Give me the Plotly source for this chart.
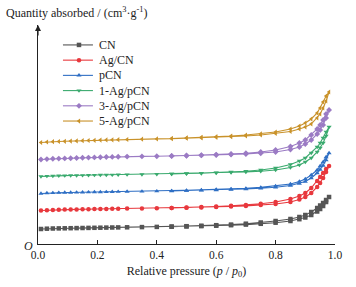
import plotly.graph_objects as go

# relative pressure points (adsorption branch, then desorption branch)
p_ads = [0.01, 0.03, 0.05, 0.07, 0.09, 0.11, 0.13, 0.15, 0.17, 0.19, 0.21, 0.23, 0.25, 0.27,
         0.30, 0.35, 0.40, 0.45, 0.50, 0.55, 0.60, 0.65, 0.70, 0.75, 0.80, 0.85, 0.88, 0.90,
         0.92, 0.94, 0.95, 0.96, 0.97, 0.98]
p_des = [0.97, 0.96, 0.95, 0.94, 0.92, 0.90, 0.88, 0.85, 0.80, 0.75, 0.70, 0.65, 0.60, 0.55,
         0.50, 0.45]

cn_ads = [15, 15.3, 15.5, 15.6, 15.7, 15.8, 15.9, 16, 16.1, 16.2, 16.3, 16.4, 16.5, 16.6,
          16.7, 16.9, 17.1, 17.3, 17.6, 17.9, 18.3, 18.8, 19.4, 20.2, 21.3, 23, 24.8, 26.5,
          29, 32.5, 35, 38, 42, 47]
cn_des = [44, 41, 38.5, 36, 32, 29, 27, 25, 23, 21.5, 20.3, 19.4, 18.8, 18.2, 17.8, 17.4]

agcn_ads = [33.5, 33.8, 34.1, 34.3, 34.4, 34.5, 34.6, 34.7, 34.8, 34.9, 35, 35.1, 35.2, 35.3,
            35.4, 35.6, 35.8, 36, 36.3, 36.6, 37, 37.5, 38.1, 39, 40, 42, 44.5, 47,
            51, 57, 61, 66, 72, 78]
agcn_des = [75, 71, 67, 63, 56, 51, 48, 45, 42, 40.3, 39, 38.2, 37.5, 37, 36.5, 36.1]

pcn_ads = [50.5, 50.9, 51.1, 51.3, 51.4, 51.5, 51.6, 51.7, 51.8, 51.9, 52, 52.1, 52.2, 52.3,
           52.4, 52.6, 52.8, 53, 53.3, 53.6, 54, 54.5, 55, 55.7, 56.7, 58.5, 60.5, 62.5,
           66, 71, 74.5, 78.5, 84, 91]
pcn_des = [87, 82, 78, 74, 69, 65, 62.5, 60, 58, 56.6, 55.6, 55, 54.4, 53.9, 53.5, 53.1]

ag1_ads = [67.5, 67.9, 68.1, 68.3, 68.4, 68.5, 68.6, 68.7, 68.8, 68.9, 69, 69.1, 69.2, 69.3,
           69.4, 69.6, 69.8, 70, 70.3, 70.6, 71, 71.5, 72, 72.8, 74, 76.5, 79, 82,
           86, 92, 96, 101, 108, 117]
ag1_des = [112, 106, 101, 97, 91, 86, 83, 79.5, 76, 74, 72.8, 72, 71.4, 70.9, 70.5, 70.1]

ag3_ads = [84.5, 84.9, 85.2, 85.4, 85.6, 85.8, 86, 86.2, 86.4, 86.6, 86.8, 87, 87.1, 87.2,
           87.4, 87.6, 87.8, 88, 88.3, 88.6, 89, 89.5, 90, 90.8, 92, 94.5, 97, 100,
           104, 110, 114, 119, 126, 134]
ag3_des = [130, 124, 119, 115, 109, 104, 101, 97.5, 94, 92, 90.8, 90, 89.4, 88.9, 88.5, 88.1]

ag5_ads = [101.5, 102, 102.3, 102.5, 102.7, 102.9, 103.1, 103.3, 103.5, 103.7, 103.9, 104.1,
           104.2, 104.3, 104.5, 104.8, 105.1, 105.4, 105.8, 106.2, 106.7, 107.3, 108, 109,
           110.5, 112.5, 115, 117, 120, 126, 130, 136, 143, 152]
ag5_des = [148, 142, 136, 131, 125, 121, 118, 115, 112, 110.2, 109, 108, 107.3, 106.7, 106.1,
           105.5]

names = ["CN", "Ag/CN", "pCN", "1-Ag/pCN", "3-Ag/pCN", "5-Ag/pCN"]
ads = [cn_ads, agcn_ads, pcn_ads, ag1_ads, ag3_ads, ag5_ads]
des = [cn_des, agcn_des, pcn_des, ag1_des, ag3_des, ag5_des]
colors = ["#555555", "#e8383d", "#2f6fc4", "#3aaa6e", "#9b7bc4", "#c9922a"]
symbols = ["square", "circle", "triangle-up", "triangle-down", "diamond", "triangle-left"]

x_ticks = [0.0, 0.2, 0.4, 0.6, 0.8, 1.0]
x_ticktext = ["0.0", "0.2", "0.4", "0.6", "0.8", "1.0"]

SERIF = "Liberation Serif"
INK = "#222"

# compact legend layout (fractions of the plot area)
LEG_X0, LEG_X1, LEG_XM, LEG_XT = 0.084, 0.185, 0.138, 0.199
LEG_Y_TOP, LEG_DY = 0.909, 0.0695

fig = go.Figure()
for n, a, d, c, s in zip(names, ads, des, colors, symbols):
    fig.add_trace(go.Scatter(
        x=p_ads + p_des, y=a + d, mode="lines+markers", name=n, showlegend=False,
        line=dict(color=c, width=1.1),
        marker=dict(symbol=s, size=4.5, color=c),
    ))

# legend drawn compactly (Plotly's own legend has a 19 px minimum row height)
for i, (n, c, s) in enumerate(zip(names, colors, symbols)):
    yy = LEG_Y_TOP - i * LEG_DY
    fig.add_shape(type="line", xref="paper", yref="paper", x0=LEG_X0, x1=LEG_X1,
                  y0=yy, y1=yy, line=dict(color=c, width=1.1))
    fig.add_trace(go.Scatter(x=[LEG_XM], y=[yy], xaxis="x2", yaxis="y2", mode="markers",
                             marker=dict(symbol=s, size=4.5, color=c), showlegend=False,
                             hoverinfo="skip"))
    fig.add_annotation(x=LEG_XT, y=yy, xref="paper", yref="paper", text=n,
                       showarrow=False, xanchor="left", yanchor="middle",
                       font=dict(family=SERIF, size=12, color=INK))

fig.update_layout(
    width=356, height=287,
    margin=dict(l=38, r=21, t=25, b=43),
    paper_bgcolor="white", plot_bgcolor="white",
    font=dict(family=SERIF, size=12, color=INK),
    showlegend=False,
    xaxis=dict(range=[0, 1], tickvals=x_ticks, ticktext=x_ticktext,
               showgrid=False, zeroline=False, showline=True, linecolor=INK,
               linewidth=1.2, ticks="inside", ticklen=4, tickcolor=INK,
               tickfont=dict(family=SERIF, size=11.5),
               title=dict(text="Relative pressure (<i>p</i> / <i>p</i><sub>0</sub>)",
                          font=dict(family=SERIF, size=12), standoff=6)),
    yaxis=dict(range=[0, 219], showgrid=False, zeroline=False, showline=True,
               linecolor=INK, linewidth=1.2, showticklabels=False, ticks=""),
    xaxis2=dict(range=[0, 1], overlaying="x", visible=False),
    yaxis2=dict(range=[0, 1], overlaying="y", visible=False),
)

fig.add_annotation(x=0, y=1.0, xref="x", yref="paper", ax=0, ay=12,
                   axref="pixel", ayref="pixel", showarrow=True, arrowhead=2,
                   arrowsize=1, arrowwidth=1.2, arrowcolor=INK, text="")
fig.add_annotation(x=0, y=1.0, xref="paper", yref="paper", xshift=-34, yshift=13,
                   xanchor="left", yanchor="middle", showarrow=False,
                   text="Quantity absorbed / (cm<sup>3</sup>·g<sup>-1</sup>)",
                   font=dict(family=SERIF, size=12, color=INK))
fig.add_annotation(x=0, y=0, xref="paper", yref="paper", xshift=-3, yshift=-2,
                   xanchor="right", yanchor="middle", showarrow=False,
                   text="<i>O</i>", font=dict(family=SERIF, size=12, color=INK))

fig.write_html("out.html", config={"displayModeBar": False},
               post_script="document.body.style.margin='0';")
